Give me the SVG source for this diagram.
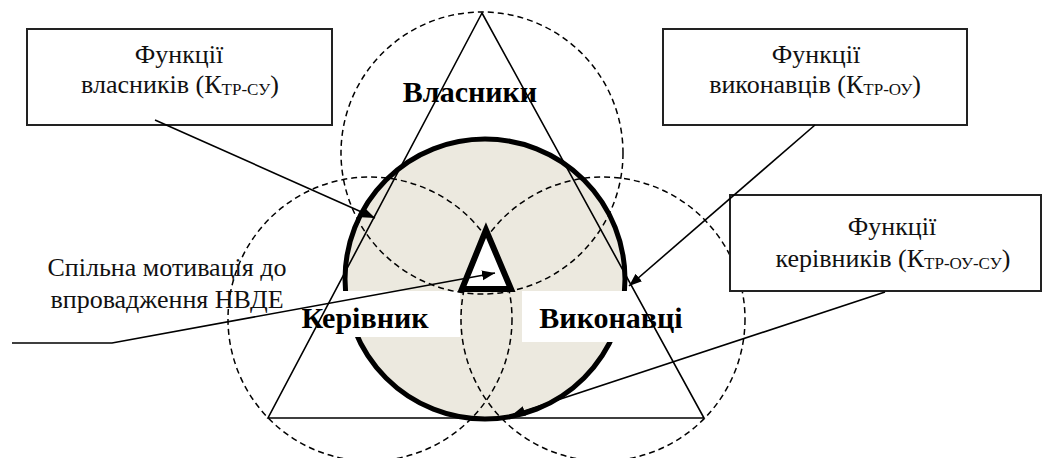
<svg xmlns="http://www.w3.org/2000/svg" width="1045" height="458" viewBox="0 0 1045 458">
<defs>
<marker id="arr" markerUnits="userSpaceOnUse" markerWidth="14" markerHeight="12" refX="13" refY="5" orient="auto">
<path d="M0,0 L13,5 L0,10 Z" fill="#000"/>
</marker>
<style>
.box{fill:#fff;stroke:#222;stroke-width:2}
.t{font-family:'Liberation Serif','Times New Roman','DejaVu Serif',serif;font-size:26px;fill:#111;text-anchor:middle}
.sub{font-size:17px}
.lbl{font-family:'Liberation Serif','Times New Roman','DejaVu Serif',serif;font-size:30px;font-weight:bold;fill:#000;text-anchor:middle}
.dash{fill:none;stroke:#000;stroke-width:1.5;stroke-dasharray:6 4}
.ln{fill:none;stroke:#000;stroke-width:1.6}
.con{fill:none;stroke:#000;stroke-width:1.6;marker-end:url(#arr)}
</style>
</defs>
<g id="bigcircle">
<circle cx="485" cy="279" r="140" fill="#ECE9DF" stroke="#000" stroke-width="5"/>
</g>
<g id="masks">
<rect x="296" y="291" width="164" height="46" fill="#fff"/>
<rect x="522" y="291" width="168" height="51" fill="#fff"/>
</g>
<g id="dashed-circles">
<circle class="dash" cx="482" cy="153" r="141"/>
<circle class="dash" cx="370" cy="319" r="142"/>
<circle class="dash" cx="603" cy="319" r="142"/>
</g>
<g id="triangle">
<polygon class="ln" points="482,13 268,418 704,418"/>
</g>
<g id="node-vlasnyky"><text class="lbl" x="470" y="102" font-family="Liberation Serif, serif">Власники</text></g>
<g id="node-kerivnyk"><text class="lbl" x="365" y="328" font-family="Liberation Serif, serif">Керівник</text></g>
<g id="node-vykonavtsi"><text class="lbl" x="611" y="328" font-family="Liberation Serif, serif">Виконавці</text></g>
<g id="node-center">
<polygon points="486,230 462,289 511,289" fill="#fff" stroke="#000" stroke-width="6" stroke-linejoin="miter"/>
</g>
<g id="node-box1">
<rect class="box" x="27" y="29" width="305" height="96"/>
<text class="t" x="179" y="63" font-family="Liberation Serif, serif">Функції</text>
<text class="t" x="180" y="93" font-family="Liberation Serif, serif">власників (К<tspan class="sub" dy="2">ТР-СУ</tspan><tspan dy="-2">)</tspan></text>
</g>
<g id="node-box2">
<rect class="box" x="663" y="29" width="304" height="96"/>
<text class="t" x="816" y="63" font-family="Liberation Serif, serif">Функції</text>
<text class="t" x="815" y="93" font-family="Liberation Serif, serif">виконавців (К<tspan class="sub" dy="2">ТР-ОУ</tspan><tspan dy="-2">)</tspan></text>
</g>
<g id="node-box3">
<rect class="box" x="730" y="195" width="311" height="96"/>
<text class="t" x="892" y="235" font-family="Liberation Serif, serif">Функції</text>
<text class="t" x="893" y="267" font-family="Liberation Serif, serif">керівників (К<tspan class="sub" dy="2">ТР-ОУ-СУ</tspan><tspan dy="-2">)</tspan></text>
</g>
<g id="node-motivation">
<text class="t" x="167" y="276" font-family="Liberation Serif, serif">Спільна мотивація до</text>
<text class="t" x="167" y="308" font-family="Liberation Serif, serif">впровадження НВДЕ</text>
</g>
<g id="connectors">
<line class="con" x1="155" y1="120" x2="375" y2="218"/>
<line class="con" x1="815" y1="125" x2="629" y2="286"/>
<line class="con" x1="885" y1="292" x2="512" y2="415"/>
<polyline class="con" points="12,343 112,343 495,273"/>
</g>
</svg>
